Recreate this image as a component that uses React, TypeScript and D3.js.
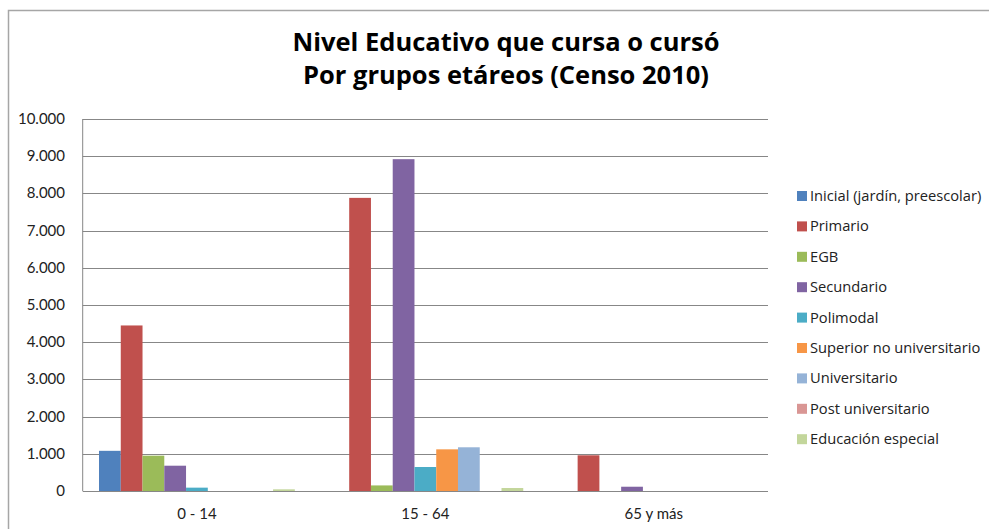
import React from "react";
import * as d3 from "d3";

const categories = ["0 - 14", "15 - 64", "65 y más"];
const seriesNames = [
  "Inicial (jardín, preescolar)",
  "Primario",
  "EGB",
  "Secundario",
  "Polimodal",
  "Superior no universitario",
  "Universitario",
  "Post universitario",
  "Educación especial",
];
const inicial = [1080, 0, 0];
const primario = [4450, 7880, 960];
const egb = [950, 150, 0];
const secundario = [680, 8920, 115];
const polimodal = [90, 645, 0];
const superior = [0, 1120, 0];
const universitario = [0, 1175, 0];
const postUniv = [0, 0, 0];
const especial = [45, 80, 0];
const seriesValues = [inicial, primario, egb, secundario, polimodal, superior, universitario, postUniv, especial];
const colors = ["#4F81BD", "#C0504D", "#9BBB59", "#8064A2", "#4BACC6", "#F79646", "#95B3D7", "#D99694", "#C3D69B"];
const yTicks = [0, 1000, 2000, 3000, 4000, 5000, 6000, 7000, 8000, 9000, 10000];

const W = 989;
const H = 529;
const font = "Lato, 'Open Sans', sans-serif";
const font2 = "'Open Sans', Lato, sans-serif";

export default function App() {
  const plotL = 82.7, plotR = 768, plotT = 119, plotB = 491;
  const y = d3.scaleLinear().domain([0, 10000]).range([plotB, plotT]);
  const x0 = d3.scaleBand<string>().domain(categories).range([plotL, plotR]).paddingInner(0.1428).paddingOuter(0.0714);
  const x1 = d3.scaleBand<string>().domain(seriesNames).range([0, x0.bandwidth()]).padding(0);
  const fmt = (v: number) => (v === 0 ? "0" : d3.format(",")(v).replace(/,/g, "."));

  return (
    <svg width={W} height={H} style={{ position: "absolute", left: 0, top: 0, background: "#fff" }} fontFamily={font}>
      <rect x={0} y={0} width={W} height={H} fill="#fff" />
      <rect x={8.5} y={10.5} width={W + 10} height={H + 10} fill="none" stroke="#a6a6a6" strokeWidth={1.5} />
      <text x={506} y={51} textAnchor="middle" fontSize={25.5} fontWeight={700} fill="#000" fontFamily={font2}>
        Nivel Educativo que cursa o cursó
      </text>
      <text x={506} y={84} textAnchor="middle" fontSize={25.5} fontWeight={700} fill="#000" fontFamily={font2}>
        Por grupos etáreos (Censo 2010)
      </text>
      {yTicks.map((t) => (
        <g key={t}>
          <line x1={plotL} x2={plotR} y1={Math.round(y(t)) + 0.5} y2={Math.round(y(t)) + 0.5} stroke="#878787" strokeWidth={1} />
          <text x={65} y={y(t) + 5} textAnchor="end" fontSize={15} fill="#222">
            {fmt(t)}
          </text>
        </g>
      ))}
      <line x1={plotL} x2={plotL} y1={plotT} y2={plotB} stroke="#878787" strokeWidth={1} />
      {categories.map((c, ci) => (
        <g key={c}>
          {seriesNames.map((s, si) => {
            const v = seriesValues[si][ci];
            if (v <= 0) return null;
            return (
              <rect
                key={s}
                x={(x0(c) as number) + (x1(s) as number)}
                y={y(v)}
                width={x1.bandwidth()}
                height={y(0) - y(v)}
                fill={colors[si]}
              />
            );
          })}
          <text x={(x0(c) as number) + x0.bandwidth() / 2} y={519} textAnchor="middle" fontSize={15} fill="#222">
            {c}
          </text>
        </g>
      ))}
      {seriesNames.map((s, si) => (
        <g key={s} transform={`translate(797, ${196 + si * 30.4})`}>
          <rect x={0} y={-5} width={10} height={10} fill={colors[si]} />
          <text x={13} y={5} fontSize={14.7} fill="#222" fontFamily={font2}>
            {s}
          </text>
        </g>
      ))}
    </svg>
  );
}
